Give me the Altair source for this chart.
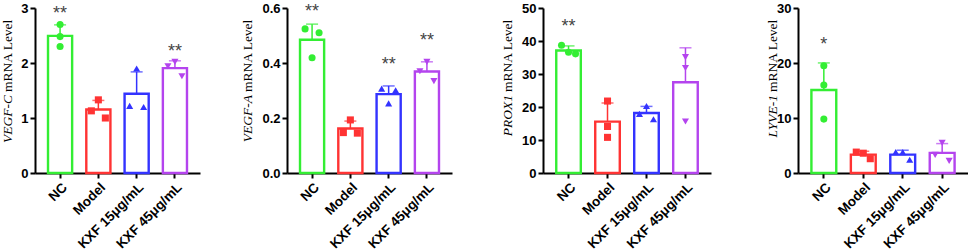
import altair as alt
import pandas as pd

groups = ["NC", "Model", "KXF 15μg/mL", "KXF 45μg/mL"]
group_colors = ["#33EE33", "#FF3333", "#3333FF", "#B444EE"]
group_shapes = ["circle", "square", "triangle-up", "triangle-down"]

# ---- VEGF-C ----
vegfc_values = [[2.70, 2.48, 2.30], [1.33, 1.13, 1.00], [1.90, 1.22, 1.20], [2.02, 1.94, 1.76]]
vegfc_jitter = [[0, 0, 0], [0, -1, 1], [0, -1, 1], [0, -1, 1]]
vegfc_star_groups = ["NC", "KXF 45μg/mL"]
vegfc_star_text = ["**", "**"]
vegfc_star_y = [2.98, 2.29]
vegfc_ticks = [0, 1, 2, 3]

# ---- VEGF-A ----
vegfa_values = [[0.524, 0.510, 0.419], [0.193, 0.147, 0.145], [0.307, 0.301, 0.253], [0.404, 0.370, 0.334]]
vegfa_jitter = [[-1, 1, 0], [0, -1, 1], [-1, 1, 0], [0, -1, 1]]
vegfa_star_groups = ["NC", "KXF 15μg/mL", "KXF 45μg/mL"]
vegfa_star_text = ["**", "**", "**"]
vegfa_star_y = [0.605, 0.41, 0.50]
vegfa_ticks = [0.0, 0.2, 0.4, 0.6]

# ---- PROX1 ----
prox1_values = [[38.7, 36.6, 36.1], [21.8, 14.1, 10.8], [20.3, 17.9, 16.3], [35.1, 31.8, 15.6]]
prox1_jitter = [[-1, 0, 1], [0, 0, 0], [0, -1, 1], [0, 0, 0]]
prox1_star_groups = ["NC"]
prox1_star_text = ["**"]
prox1_star_y = [45.7]
prox1_ticks = [0, 10, 20, 30, 40, 50]

# ---- LYVE-1 ----
lyve1_values = [[19.5, 16.0, 9.8], [3.8, 3.6, 2.6], [3.8, 3.8, 2.4], [5.5, 3.3, 2.2]]
lyve1_jitter = [[0, 0, 0], [-1, 0, 1], [-1, 0, 1], [0, -1, 1]]
lyve1_star_groups = ["NC"]
lyve1_star_text = ["*"]
lyve1_star_y = [24.1]
lyve1_ticks = [0, 10, 20, 30]

H = 165


def panel(gene, values, jitter, star_groups, star_text, star_y, ticks, fmt,
          width, left_bound, title_dx):
    rows = []
    for g, vals, jit in zip(groups, values, jitter):
        for v, j in zip(vals, jit):
            rows.append({"group": g, "value": v, "jit": j})
    pts = pd.DataFrame(rows)
    summ = pts.groupby("group", sort=False)["value"].agg(["mean", "std"]).reset_index()
    summ["upper"] = summ["mean"] + summ["std"]
    stars = pd.DataFrame({"group": star_groups, "txt": star_text, "y": star_y})

    xscale = alt.Scale(domain=groups, paddingInner=0.37, paddingOuter=0.34)
    xaxis = alt.Axis(title=None, labelAngle=-45)
    X = alt.X("group:N", scale=xscale, axis=xaxis, sort=groups)
    yscale = alt.Scale(domain=[0, max(ticks)], nice=False, zero=True)
    yaxis = alt.Axis(title=None, values=ticks, format=fmt, labelFontSize=13)

    def Y(f):
        return alt.Y(f, scale=yscale, axis=yaxis)

    col = alt.Color("group:N", scale=alt.Scale(domain=groups, range=group_colors), legend=None)
    strk = alt.Stroke("group:N", scale=alt.Scale(domain=groups, range=group_colors), legend=None)
    shp = alt.Shape("group:N", scale=alt.Scale(domain=groups, range=group_shapes), legend=None)

    bars = alt.Chart(summ).mark_bar(fill="white", strokeWidth=2.4).encode(
        x=X, y=Y("mean:Q"), stroke=strk)
    err = alt.Chart(summ).mark_rule(strokeWidth=1.5).encode(
        x=X, y=Y("mean:Q"), y2="upper:Q", color=col)
    cap = alt.Chart(summ).mark_tick(thickness=1.5, size=12).encode(
        x=X, y=Y("upper:Q"), color=col)
    layers = [bars, err, cap]
    for j in (-1, 0, 1):
        layers.append(
            alt.Chart(pts).transform_filter(alt.datum.jit == j)
            .mark_point(filled=True, size=50, opacity=1, xOffset=7 * j)
            .encode(x=X, y=Y("value:Q"), color=col, shape=shp)
        )
    star_layer = alt.Chart(stars).mark_text(
        font="Liberation Sans", fontSize=18, color="#444444", dy=5, baseline="middle"
    ).encode(x=X, y=Y("y:Q"), text="txt:N")
    layers.append(star_layer)

    tdf = pd.DataFrame({"gene": [gene], "rest": ["mRNA Level"]})
    gene_t = alt.Chart(tdf).mark_text(
        font="Liberation Serif", fontStyle="italic", fontSize=13.5, angle=270,
        align="right", baseline="middle", color="black"
    ).encode(text="gene:N", x=alt.value(title_dx), y=alt.value(87))
    rest_t = alt.Chart(tdf).mark_text(
        font="Liberation Serif", fontSize=13.5, angle=270,
        align="left", baseline="middle", color="black"
    ).encode(text="rest:N", x=alt.value(title_dx), y=alt.value(84))
    bound = alt.Chart(tdf).mark_rule(opacity=0, strokeOpacity=0).encode(
        x=alt.value(-left_bound), x2=alt.value(-left_bound), y=alt.value(-8), y2=alt.value(0))
    layers += [gene_t, rest_t, bound]
    return alt.layer(*layers).properties(width=width, height=H)


p1 = panel("VEGF-C", vegfc_values, vegfc_jitter, vegfc_star_groups, vegfc_star_text,
           vegfc_star_y, vegfc_ticks, "d", 165, 35, -27)
p2 = panel("VEGF-A", vegfa_values, vegfa_jitter, vegfa_star_groups, vegfa_star_text,
           vegfa_star_y, vegfa_ticks, ".1f", 165, 47, -39)
p3 = panel("PROX1", prox1_values, prox1_jitter, prox1_star_groups, prox1_star_text,
           prox1_star_y, prox1_ticks, "d", 168, 51, -35)
p4 = panel("LYVE-1", lyve1_values, lyve1_jitter, lyve1_star_groups, lyve1_star_text,
           lyve1_star_y, lyve1_ticks, "d", 170, 47, -25)

chart = alt.hconcat(p1, p2, p3, p4, spacing=40, padding=0).resolve_scale(
    y="independent"
).configure_view(stroke=None).configure_axis(
    domainColor="black", domainWidth=2, tickColor="black", tickWidth=2, tickSize=5,
    labelColor="black", labelFont="Liberation Sans", labelFontWeight="bold",
    labelFontSize=13.5, grid=False, labelPadding=2
)

chart.save("out.html", embed_options={"renderer": "svg", "actions": False})
